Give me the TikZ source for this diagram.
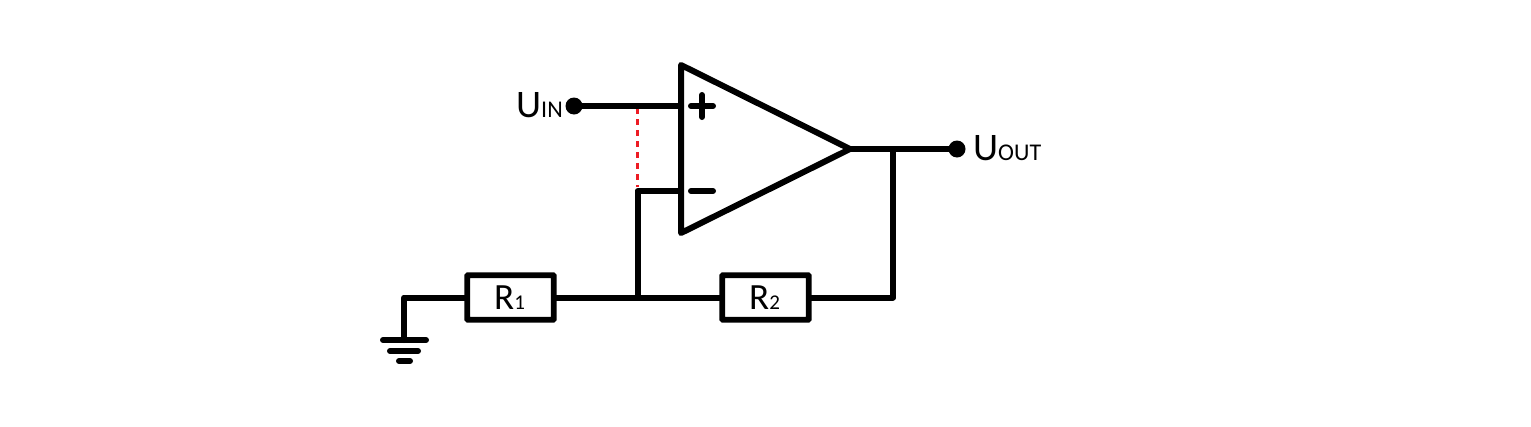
\documentclass[tikz,border=0pt]{standalone}
\usepackage{fontspec}
\setmainfont{Carlito}
\definecolor{dashred}{RGB}{237,28,36}
\newcommand{\bigsz}{\fontsize{39}{39}\selectfont}
\newcommand{\smallsz}{\fontsize{24}{24}\selectfont}
\newcommand{\resz}{\fontsize{37}{37}\selectfont}
\newcommand{\subsz}{\fontsize{21}{21}\selectfont}
\tikzset{
  wire/.style={line width=6pt,line join=round,line cap=round,black},
  resistor/.style={draw=black,line width=5.8pt,rounded corners=0.8pt,minimum width=86.5pt,minimum height=44.5pt,inner sep=0pt,fill=white},
  terminal/.style={circle,fill=black,minimum size=17pt,inner sep=0pt},
  label/.style={inner sep=0pt,anchor=base west,text=black},
  reddash/.style={line width=3pt,dashed,dash pattern=on 5.5pt off 5.5pt,dashred}
}
\begin{document}
\begin{tikzpicture}[x=1pt,y=-1pt]
\useasboundingbox (0,0) rectangle (1531,426);
\fill[white] (0,0) rectangle (1531,426);
% amplifier corners
\coordinate (atop) at (681,65);
\coordinate (abot) at (681,233);
\coordinate (aout) at (850,149);
\coordinate (pin) at (681,106);
\coordinate (nin) at (681,191);
\coordinate (nj) at (637.5,191);
\coordinate (fb) at (637.5,297.5);
\coordinate (oj) at (893,149);
\coordinate (oc) at (893,297.5);
\coordinate (gc) at (404,297.5);
\coordinate (g1) at (404,340);
\coordinate (gl1) at (383,340);
\coordinate (gr1) at (426,340);
\coordinate (gl2) at (390,351);
\coordinate (gr2) at (418,351);
\coordinate (gl3) at (399,361);
\coordinate (gr3) at (410,361);
\coordinate (pl) at (691,106);
\coordinate (pr) at (713,106);
\coordinate (pt) at (702,95);
\coordinate (pb) at (702,117);
\coordinate (ml) at (691,191);
\coordinate (mr) at (713,191);
\coordinate (rt) at (637.5,108);
\coordinate (rb) at (637.5,187);

\node[terminal] (uin) at (574,106) {};
\node[terminal] (uout) at (957,149) {};

\draw[reddash] (rt) -- (rb);
\draw[wire] (uin) -- (pin);
\draw[wire] (aout) -- (uout);
\draw[wire] (oj) -- (oc) -- (gc) -- (g1);
\draw[wire] (nin) -- (nj) -- (fb);
\draw[wire] (gl1) -- (gr1);
\draw[wire] (gl2) -- (gr2);
\draw[wire] (gl3) -- (gr3);
\draw[wire] (atop) -- (aout) -- (abot) -- cycle;
\draw[wire] (pl) -- (pr);
\draw[wire] (pt) -- (pb);
\draw[wire] (ml) -- (mr);

\node[resistor] (r1) at (510.5,297.5) {};
\node[resistor] (r2) at (765.5,297.5) {};

\node[label] (tin) at (516,117) {\bigsz U\smallsz IN};
\node[label] (tout) at (973,160) {\bigsz U\smallsz OUT};
\node[label] (tr1) at (494,309) {\resz R\subsz 1};
\node[label] (tr2) at (749,309) {\resz R\subsz 2};
\end{tikzpicture}
\end{document}
